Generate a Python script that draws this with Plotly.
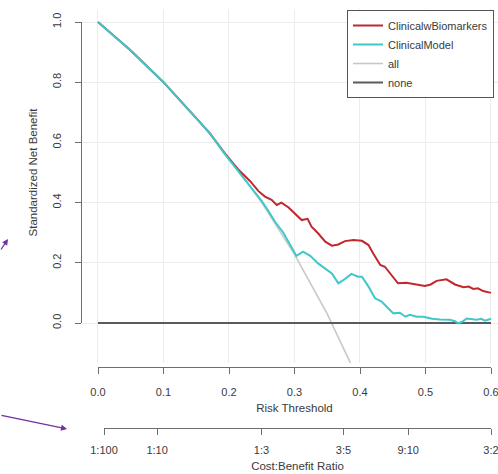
import plotly.graph_objects as go

# ---------------- data ----------------
thr_bio = [0, 0.05, 0.10, 0.15, 0.171, 0.194, 0.214, 0.232, 0.245, 0.255, 0.265, 0.273, 0.280,
           0.291, 0.301, 0.311, 0.320, 0.326, 0.336, 0.347, 0.357, 0.367, 0.377, 0.390, 0.403,
           0.413, 0.420, 0.431, 0.438, 0.448, 0.458, 0.471, 0.484, 0.499, 0.508, 0.517, 0.532,
           0.545, 0.558, 0.566, 0.573, 0.580, 0.588, 0.600]
nb_bio = [1.0, 0.905, 0.80, 0.682, 0.630, 0.562, 0.510, 0.472, 0.438, 0.420, 0.409, 0.392, 0.400,
          0.384, 0.364, 0.342, 0.346, 0.320, 0.298, 0.270, 0.257, 0.261, 0.272, 0.276, 0.273,
          0.259, 0.232, 0.193, 0.187, 0.159, 0.132, 0.134, 0.130, 0.123, 0.128, 0.140, 0.145,
          0.128, 0.119, 0.121, 0.113, 0.115, 0.106, 0.100]

thr_clin = [0, 0.05, 0.10, 0.15, 0.171, 0.194, 0.214, 0.235, 0.250, 0.260, 0.270, 0.283, 0.293,
            0.303, 0.313, 0.324, 0.336, 0.347, 0.357, 0.367, 0.375, 0.387, 0.397, 0.403, 0.413,
            0.423, 0.433, 0.443, 0.451, 0.461, 0.469, 0.476, 0.487, 0.497, 0.510, 0.522, 0.537,
            0.545, 0.550, 0.556, 0.563, 0.578, 0.585, 0.591, 0.600]
nb_clin = [1.0, 0.905, 0.80, 0.682, 0.630, 0.560, 0.506, 0.448, 0.405, 0.373, 0.337, 0.300, 0.259,
           0.223, 0.237, 0.223, 0.198, 0.182, 0.165, 0.132, 0.143, 0.163, 0.154, 0.154, 0.121,
           0.082, 0.071, 0.049, 0.032, 0.034, 0.021, 0.027, 0.021, 0.021, 0.014, 0.012, 0.011,
           0.006, -0.001, 0.004, 0.015, 0.011, 0.014, 0.008, 0.014]

thr_all = [0, 0.05, 0.10, 0.15, 0.20, 0.25, 0.30, 0.35, 0.40]
nb_all = [1.0, 0.905, 0.80, 0.682, 0.55, 0.40, 0.228, 0.03, -0.20]

thr_none = [0, 0.6]
nb_none = [0, 0]

risk_ticks = [0, 0.1, 0.2, 0.3, 0.4, 0.5, 0.6]
risk_labels = ["0.0", "0.1", "0.2", "0.3", "0.4", "0.5", "0.6"]
cb_ticks = [1 / 101, 1 / 11, 1 / 4, 3 / 8, 9 / 19, 3 / 5]
cb_labels = ["1:100", "1:10", "1:3", "3:5", "9:10", "3:2"]
nb_ticks = [0, 0.2, 0.4, 0.6, 0.8, 1.0]
nb_labels = ["0.0", "0.2", "0.4", "0.6", "0.8", "1.0"]

# ---------------- layout helpers ----------------
W, H = 498, 474
def px(x):
    return x / W
def py(y):
    return 1 - y / H

EPS = 1e-6
FONT = "Liberation Sans, Arial, sans-serif"
TXT = "#3a3a3a"
AX = "#6e6e6e"

fig = go.Figure()

fig.add_trace(go.Scatter(x=thr_all, y=nb_all, mode="lines", name="all",
                         line=dict(color="#c8c8c8", width=1.6), legendrank=3))
fig.add_trace(go.Scatter(x=thr_none, y=nb_none, mode="lines", name="none",
                         line=dict(color="#5a5a5a", width=2), legendrank=4))
fig.add_trace(go.Scatter(x=thr_bio, y=nb_bio, mode="lines", name="ClinicalwBiomarkers",
                         line=dict(color="#c0282e", width=2), legendrank=1))
fig.add_trace(go.Scatter(x=thr_clin, y=nb_clin, mode="lines", name="ClinicalModel",
                         line=dict(color="#3ec8ca", width=2), legendrank=2))

# dummy traces to instantiate decorative axes
fig.add_trace(go.Scatter(x=[0.3], y=[0.5], xaxis="x2", yaxis="y2", mode="markers",
                         marker=dict(opacity=0), showlegend=False, hoverinfo="skip"))
fig.add_trace(go.Scatter(x=[0.3], y=[0.5], xaxis="x3", yaxis="y2", mode="markers",
                         marker=dict(opacity=0), showlegend=False, hoverinfo="skip"))

fig.update_layout(
    width=W, height=H,
    margin=dict(l=0, r=0, t=0, b=0, autoexpand=False),
    paper_bgcolor="white", plot_bgcolor="rgba(0,0,0,0)",
    font=dict(family=FONT, size=11, color=TXT),
    showlegend=True,
    legend=dict(x=px(347), y=py(10), xanchor="left", yanchor="top",
                bordercolor="#555555", borderwidth=1, bgcolor="white",
                font=dict(size=11, color=TXT), tracegroupgap=0,
                itemwidth=30),
    xaxis=dict(domain=[px(82), 1], range=[-0.0244, 0.6107], showgrid=True,
               gridcolor="#ececec", gridwidth=1, tickvals=risk_ticks,
               showticklabels=False, ticks="", zeroline=False, showline=False,
               anchor="y", fixedrange=True, automargin=False),
    yaxis=dict(domain=[py(363), py(9)], range=[-0.1329, 1.0432], showgrid=True,
               gridcolor="#ececec", gridwidth=1, tickvals=nb_ticks,
               showticklabels=False, ticks="", zeroline=False, showline=False,
               anchor="x", fixedrange=True, automargin=False),
    xaxis2=dict(domain=[px(98), px(491)], range=[0 - EPS, 0.6 + EPS], anchor="free",
                position=py(367), showline=True, linecolor=AX, linewidth=1.2,
                ticks="outside", ticklen=6, tickcolor=AX, tickwidth=1.2,
                tickvals=risk_ticks, ticktext=risk_labels, showgrid=False,
                zeroline=False, ticklabelstandoff=9, automargin=False,
                ticklabeloverflow="allow",
                title=dict(text="Risk Threshold", standoff=6, font=dict(size=11.5))),
    xaxis3=dict(domain=[px(104), px(491)], range=[1 / 101 - EPS, 0.6 + EPS], anchor="free",
                position=py(428), showline=True, linecolor=AX, linewidth=1.2,
                ticks="outside", ticklen=6, tickcolor=AX, tickwidth=1.2,
                tickvals=cb_ticks, ticktext=cb_labels, showgrid=False,
                zeroline=False, ticklabelstandoff=6, automargin=False,
                ticklabeloverflow="allow",
                title=dict(text="Cost:Benefit Ratio", standoff=6, font=dict(size=11.5))),
    yaxis2=dict(domain=[py(323), py(22)], range=[0 - EPS, 1 + EPS], anchor="free",
                position=px(81), showline=True, linecolor=AX, linewidth=1.2,
                ticks="outside", ticklen=6, tickcolor=AX, tickwidth=1.2,
                tickvals=nb_ticks, ticktext=nb_labels, tickangle=-90,
                showgrid=False, zeroline=False, ticklabelstandoff=10, automargin=False,
                ticklabeloverflow="allow",
                title=dict(text="Standardized Net Benefit", standoff=9,
                           font=dict(size=11.5))),
)

# purple arrows
fig.add_annotation(xref="paper", yref="paper", x=px(8), y=py(239), text="",
                   showarrow=True, ax=-14, ay=12, arrowhead=2, arrowsize=1,
                   arrowwidth=1.2, arrowcolor="#7030a0")
fig.add_annotation(xref="paper", yref="paper", x=px(67), y=py(429), text="",
                   showarrow=True, ax=-75, ay=-14, arrowhead=2, arrowsize=1,
                   arrowwidth=1.2, arrowcolor="#7030a0")

fig.write_html("out.html")
